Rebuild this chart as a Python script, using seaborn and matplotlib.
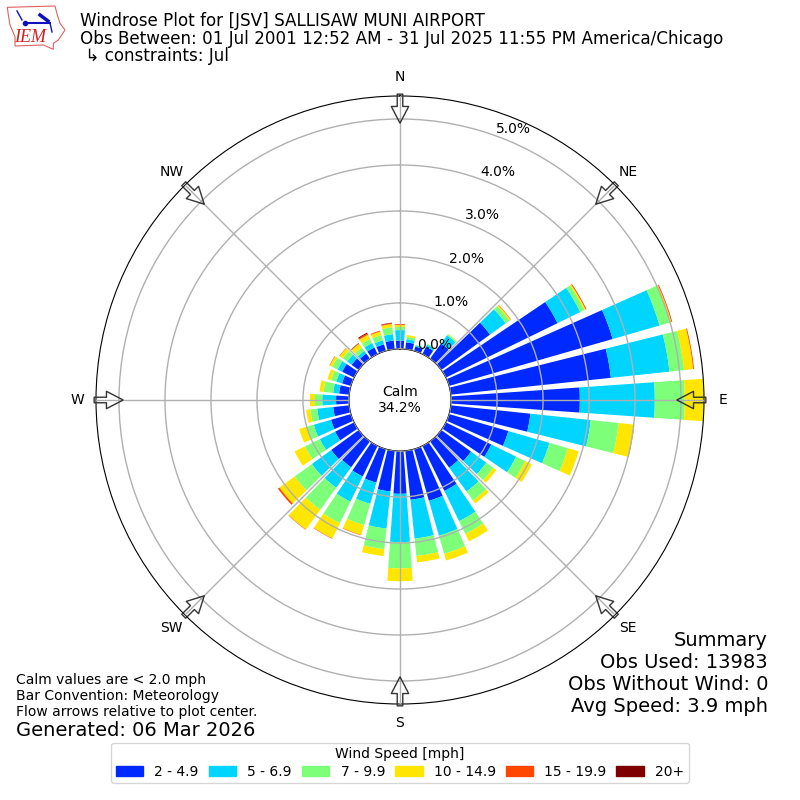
#!/usr/bin/env python3
import matplotlib
matplotlib.use("Agg")
import matplotlib.pyplot as plt
import numpy as np
import seaborn as sns
from matplotlib.patches import Patch, Polygon

directions = list(range(0, 360, 10))

speed_2_5 = [0.18, 0.15, 0.10, 0.18, 0.41, 1.31, 2.70, 3.70, 3.50, 2.80, 1.74, 1.34,
             1.10, 0.80, 0.71, 1.09, 1.17, 1.07, 0.93, 0.89, 0.76, 0.74, 0.70, 0.74,
             0.46, 0.45, 0.35, 0.28, 0.22, 0.20, 0.29, 0.19, 0.14, 0.16, 0.15, 0.19]
speed_5_7 = [0.23, 0.07, 0.03, 0.05, 0.22, 0.42, 0.55, 1.06, 1.28, 1.63, 1.32, 0.93,
             0.60, 0.41, 0.64, 0.73, 0.79, 0.85, 1.05, 0.81, 0.48, 0.61, 0.55, 0.52,
             0.37, 0.39, 0.35, 0.30, 0.13, 0.13, 0.11, 0.12, 0.07, 0.11, 0.09, 0.14]
speed_7_10 = [0.07, 0.05, 0.01, 0.02, 0.03, 0.10, 0.10, 0.24, 0.32, 0.65, 0.61, 0.42,
              0.22, 0.19, 0.24, 0.31, 0.41, 0.38, 0.57, 0.45, 0.48, 0.52, 0.59, 0.46,
              0.36, 0.16, 0.15, 0.16, 0.21, 0.12, 0.13, 0.12, 0.09, 0.10, 0.12, 0.15]
speed_10_15 = [0.04, 0.04, 0.00, 0.00, 0.01, 0.03, 0.03, 0.03, 0.20, 0.47, 0.33, 0.24,
               0.16, 0.08, 0.08, 0.18, 0.15, 0.14, 0.28, 0.15, 0.22, 0.37, 0.53, 0.41,
               0.25, 0.17, 0.09, 0.11, 0.09, 0.08, 0.06, 0.08, 0.10, 0.10, 0.08, 0.07]
speed_15_20 = [0.02, 0.00, 0.00, 0.00, 0.00, 0.01, 0.02, 0.02, 0.02, 0.00, 0.01, 0.00,
               0.00, 0.00, 0.00, 0.00, 0.00, 0.00, 0.00, 0.00, 0.01, 0.01, 0.01, 0.04,
               0.00, 0.00, 0.00, 0.00, 0.00, 0.00, 0.01, 0.01, 0.01, 0.03, 0.02, 0.02]
speed_20_up = [0.00, 0.00, 0.00, 0.00, 0.00, 0.00, 0.00, 0.00, 0.00, 0.00, 0.00, 0.00,
               0.00, 0.00, 0.00, 0.00, 0.00, 0.00, 0.00, 0.00, 0.00, 0.00, 0.00, 0.00,
               0.00, 0.00, 0.00, 0.00, 0.00, 0.00, 0.00, 0.00, 0.01, 0.02, 0.00, 0.01]

speed_bins = [speed_2_5, speed_5_7, speed_7_10, speed_10_15, speed_15_20, speed_20_up]
speed_labels = ["2 - 4.9", "5 - 6.9", "7 - 9.9", "10 - 14.9", "15 - 19.9", "20+"]
speed_colors = ["#0029ff", "#00d5ff", "#7dff7a", "#ffe600", "#ff4700", "#7f0000"]

r_ticks = [0, 1, 2, 3, 4, 5]
compass_angles = [0, 45, 90, 135, 180, 225, 270, 315]
compass_labels = ["N", "NE", "E", "SE", "S", "SW", "W", "NW"]

title_lines = ["Windrose Plot for [JSV] SALLISAW MUNI AIRPORT",
               "Obs Between: 01 Jul 2001 12:52 AM - 31 Jul 2025 11:55 PM America/Chicago",
               " ↳ constraints: Jul"]
summary_lines = ["Summary", "Obs Used: 13983", "Obs Without Wind: 0", "Avg Speed: 3.9 mph"]
note_lines = ["Calm values are < 2.0 mph", "Bar Convention: Meteorology",
              "Flow arrows relative to plot center."]

# logo outline, in pixels of a 240x80 crop scaled 3x
iowa_x = [22, 165, 172, 180, 195, 185, 175, 160, 160, 130, 45, 45, 30, 25]
iowa_y = [22, 18, 45, 70, 90, 105, 120, 130, 148, 135, 138, 110, 75, 45]

fig = plt.figure(figsize=(8, 8), dpi=100)
ax = fig.add_axes([0.12, 0.12, 0.76, 0.76], projection="polar")

theta = np.radians(directions)
bottom = np.zeros(len(directions))
for values, color in zip(speed_bins, speed_colors):
    sns.barplot(x=theta, y=values, bottom=bottom, native_scale=True, width=0.8,
                color=color, saturation=1, errorbar=None, linewidth=0, ax=ax)
    bottom = bottom + np.array(values)

ax.set_xlabel("")
ax.set_ylabel("")
ax.set_theta_zero_location("N")
ax.set_theta_direction(-1)
ax.set_ylim(0, 5.5)
ax.set_rorigin(-1.11)
ax.set_axisbelow(False)
ax.grid(True, color="#b0b0b0", linewidth=1)
ax.set_rgrids(r_ticks, labels=[f"{r:.1f}%" for r in r_ticks], angle=20)
ax.set_thetagrids(compass_angles, labels=compass_labels)
ax.tick_params(axis="x", pad=3)

# hollow flow arrows around the rim
for angle in compass_angles:
    ax.annotate("", xy=(np.radians(angle), 4.91), xytext=(np.radians(angle), 5.54),
                arrowprops=dict(facecolor="none", edgecolor="#333333", width=4,
                                headwidth=12.5, headlength=12, shrink=0, linewidth=1),
                annotation_clip=False)

ax.text(0.5, 0.5, "Calm\n34.2%", transform=ax.transAxes, ha="center", va="center",
        fontsize=10)

for line, y in zip(title_lines, [21, 38.5, 56]):
    fig.text(80 / 800, 1 - y / 800, line, fontsize=12.05, va="center")
for line, y in zip(summary_lines, [640, 662, 684, 706]):
    fig.text(768 / 800, 1 - y / 800, line, fontsize=14, ha="right", va="center")
for line, y in zip(note_lines, [680, 696, 712]):
    fig.text(16 / 800, 1 - y / 800, line, fontsize=10, va="center")
fig.text(16 / 800, 1 - 730 / 800, "Generated: 06 Mar 2026", fontsize=14, va="center")

handles = [Patch(color=c, label=l) for c, l in zip(speed_colors, speed_labels)]
fig.legend(handles=handles, title="Wind Speed [mph]", ncol=6, loc="lower center",
           bbox_to_anchor=(0.5, 0.0125), fontsize=10, title_fontsize=10,
           borderpad=0.3, columnspacing=0.7, labelspacing=0.3)

logo = fig.add_axes([0, 1 - 80 / 800, 240 / 800, 80 / 800])
logo.set_xlim(0, 240)
logo.set_ylim(80, 0)
logo.axis("off")
logo.add_patch(Polygon(np.column_stack([np.array(iowa_x) / 3, np.array(iowa_y) / 3]),
                       closed=True, fill=False, edgecolor="#e06060", linewidth=0.8))
logo.plot([25, 50], [23, 23], color="#1010c0", linewidth=1.5)
logo.plot([40, 48], [15, 21], color="#1010c0", linewidth=2.5)
logo.plot([17, 22], [11, 20], color="#1010c0", linewidth=1)
logo.plot([50, 52], [23, 32], color="#1010c0", linewidth=1)
logo.plot([25], [23], "o", color="#1010c0", markersize=3)
logo.text(30.5, 38, "IEM", color="#d02020", fontsize=13, style="italic",
          family="Liberation Serif", ha="center", va="center")

fig.savefig("out.png", dpi=100)
